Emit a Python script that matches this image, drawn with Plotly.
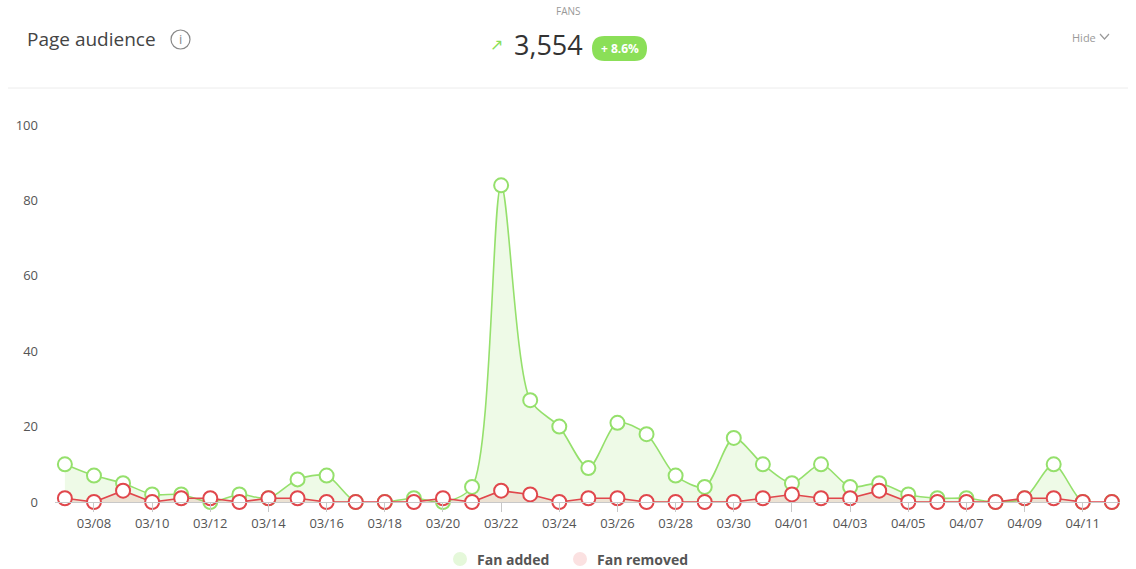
import plotly.graph_objects as go

dates = ["03/07", "03/08", "03/09", "03/10", "03/11", "03/12", "03/13", "03/14", "03/15", "03/16",
         "03/17", "03/18", "03/19", "03/20", "03/21", "03/22", "03/23", "03/24", "03/25", "03/26",
         "03/27", "03/28", "03/29", "03/30", "03/31", "04/01", "04/02", "04/03", "04/04", "04/05",
         "04/06", "04/07", "04/08", "04/09", "04/10", "04/11", "04/12"]
fan_added = [10, 7, 5, 2, 2, 0, 2, 1, 6, 7,
             0, 0, 1, 0, 4, 84, 27, 20, 9, 21,
             18, 7, 4, 17, 10, 5, 10, 4, 5, 2,
             1, 1, 0, 1, 10, 0, 0]
fan_removed = [1, 0, 3, 0, 1, 1, 0, 1, 1, 0,
               0, 0, 0, 1, 0, 3, 2, 0, 1, 1,
               0, 0, 0, 0, 1, 2, 1, 1, 3, 0,
               0, 0, 0, 1, 1, 0, 0]
series_names = ["Fan added", "Fan removed"]
tick_labels = dates[1::2]
y_ticks = [0, 20, 40, 60, 80, 100]

W, H = 1136, 569
L, R, T, B = 55, 16, 125, 67
PW, PH = W - L - R, H - T - B


def px(x):
    return (x - L) / PW


def py(y):
    return (H - B - y) / PH


def P(x, y):
    return f"{px(x):.5f},{py(y):.5f}"


GREEN = "#95e06c"
RED = "#e0474c"
FONT = "Open Sans, Lato, sans-serif"

fig = go.Figure()
fig.add_trace(go.Scatter(
    x=dates, y=fan_added, mode="lines+markers", name=series_names[0],
    line=dict(color=GREEN, width=1.6, shape="spline", smoothing=0.8),
    fill="tozeroy", fillcolor="rgba(149,224,108,0.16)",
    marker=dict(size=14, color="white", line=dict(color=GREEN, width=2)),
    showlegend=False, cliponaxis=False))
fig.add_trace(go.Scatter(
    x=dates, y=fan_removed, mode="lines+markers", name=series_names[1],
    line=dict(color=RED, width=1.6),
    fill="tozeroy", fillcolor="rgba(224,71,76,0.13)",
    marker=dict(size=14, color="white", line=dict(color=RED, width=2)),
    showlegend=False, cliponaxis=False))

shapes = []
shapes.append(dict(type="line", xref="paper", yref="paper", x0=px(8), x1=px(1128), y0=py(88), y1=py(88),
                   line=dict(color="#ececec", width=1)))
shapes.append(dict(type="circle", xref="paper", yref="paper", x0=px(171), x1=px(190), y0=py(30), y1=py(49),
                   line=dict(color="#888", width=1.2)))
x0, x1, y0, y1, r = 592, 647, 36, 61, 12.5
path = (f"M {P(x0 + r, y0)} L {P(x1 - r, y0)} Q {P(x1, y0)} {P(x1, y0 + r)} "
        f"Q {P(x1, y1)} {P(x1 - r, y1)} L {P(x0 + r, y1)} Q {P(x0, y1)} {P(x0, y1 - r)} "
        f"Q {P(x0, y0)} {P(x0 + r, y0)} Z")
shapes.append(dict(type="path", xref="paper", yref="paper", path=path,
                   fillcolor="#8bdf58", line=dict(width=0)))
shapes.append(dict(type="path", xref="paper", yref="paper",
                   path=f"M {P(1100, 34)} L {P(1104.5, 39)} L {P(1109, 34)}",
                   line=dict(color="#9a9a9a", width=1.2)))
for cx, col in [(460, "#e5f8da"), (580, "#fbe1e1")]:
    shapes.append(dict(type="circle", xref="paper", yref="paper", x0=px(cx - 7), x1=px(cx + 7),
                       y0=py(552), y1=py(566), fillcolor=col, line=dict(width=0)))
fig.update_layout(shapes=shapes)

ann = []
ann.append(dict(text="Page audience", x=px(25), y=py(39), xanchor="left", yanchor="middle",
                font=dict(size=19, color="#444", family=FONT)))
ann.append(dict(text="i", x=px(180.5), y=py(39.5), xanchor="center", yanchor="middle",
                font=dict(size=13, color="#888", family=FONT)))
ann.append(dict(text="FANS", x=px(568), y=py(11), xanchor="center", yanchor="middle",
                font=dict(size=10, color="#999", family=FONT)))
ann.append(dict(text="↗", x=px(496), y=py(45), xanchor="center", yanchor="middle",
                font=dict(size=16, color="#8bdf58", family="DejaVu Sans")))
ann.append(dict(text="3,554", x=px(548), y=py(44), xanchor="center", yanchor="middle",
                font=dict(size=27, color="#333", family=FONT)))
ann.append(dict(text="<b>+ 8.6%</b>", x=px(619.5), y=py(48.5), xanchor="center", yanchor="middle",
                font=dict(size=12, color="white", family=FONT)))
ann.append(dict(text="Hide", x=px(1084), y=py(37), xanchor="center", yanchor="middle",
                font=dict(size=11, color="#9a9a9a", family=FONT)))
ann.append(dict(text=f"<b>{series_names[0]}</b>", x=px(475), y=py(559.5), xanchor="left", yanchor="middle",
                font=dict(size=14, color="#555", family=FONT)))
ann.append(dict(text=f"<b>{series_names[1]}</b>", x=px(595), y=py(559.5), xanchor="left", yanchor="middle",
                font=dict(size=14, color="#555", family=FONT)))
for a in ann:
    a.update(xref="paper", yref="paper", showarrow=False)
fig.update_layout(annotations=ann)

fig.update_layout(
    width=W, height=H,
    margin=dict(l=L, r=R, t=T, b=B),
    plot_bgcolor="white", paper_bgcolor="white",
    font=dict(family=FONT, color="#555"),
    showlegend=False,
    xaxis=dict(type="category", range=[-0.34, 36.28], tickmode="array", tickvals=tick_labels,
               ticktext=tick_labels, showgrid=False, zeroline=False, showline=True,
               linecolor="#c8c8c8", linewidth=1, ticks="outside", ticklen=9, tickcolor="#c8c8c8",
               tickfont=dict(size=13, color="#555")),
    yaxis=dict(range=[0, 100], tickvals=y_ticks, showgrid=False, zeroline=False, showline=False,
               ticklabelstandoff=16, tickfont=dict(size=13, color="#555")),
)

post = "document.body.style.margin = '0';"
fig.write_html("out.html", post_script=post, config={"displayModeBar": False})
